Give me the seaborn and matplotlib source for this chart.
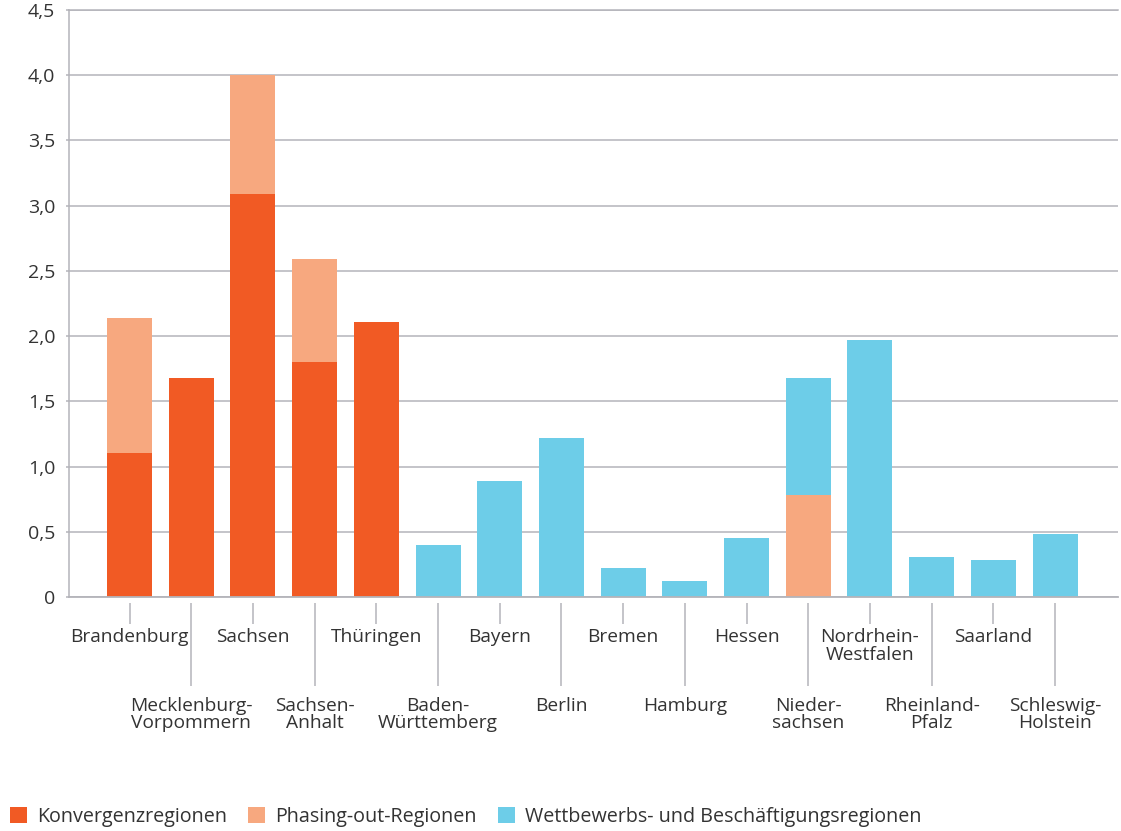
import pandas as pd
import numpy as np
import seaborn as sns
import matplotlib.pyplot as plt
from matplotlib.patches import Patch
from matplotlib.ticker import FuncFormatter

# data
laender = ["Brandenburg", "Mecklenburg-\nVorpommern", "Sachsen", "Sachsen-\nAnhalt",
           "Thüringen", "Baden-\nWürttemberg", "Bayern", "Berlin", "Bremen", "Hamburg",
           "Hessen", "Nieder-\nsachsen", "Nordrhein-\nWestfalen", "Rheinland-\nPfalz",
           "Saarland", "Schleswig-\nHolstein"]
konvergenz = [1.10, 1.68, 3.09, 1.80, 2.11, 0, 0, 0, 0, 0, 0, 0, 0, 0, 0, 0]
phasing_out = [1.04, 0, 0.91, 0.79, 0, 0, 0, 0, 0, 0, 0, 0.78, 0, 0, 0, 0]
wettbewerb = [0, 0, 0, 0, 0, 0.40, 0.89, 1.22, 0.22, 0.12, 0.45, 0.90, 1.97, 0.31, 0.28, 0.48]

serien = ["Konvergenzregionen", "Phasing-out-Regionen", "Wettbewerbs- und Beschäftigungsregionen"]
farben = ["#F15A24", "#F7A87F", "#6DCDE8"]

df = pd.DataFrame({"land": laender, "k": konvergenz, "p": phasing_out, "w": wettbewerb})
df["kp"] = df["k"] + df["p"]
df["kpw"] = df["kp"] + df["w"]

plt.rcParams['font.family'] = ['Open Sans', 'DejaVu Sans']
textfarbe = "#333333"
grau = "#B4B4BA"
fs = 13.8

fig = plt.figure(figsize=(11.21, 8.31), dpi=100)
ax = fig.add_axes([0.0616, 0.2816, 0.9357, 0.7064])

# stacked bars: draw cumulative totals on top of each other
for spalte, farbe in zip(["kpw", "kp", "k"], farben[::-1]):
    sns.barplot(data=df, x="land", y=spalte, color=farbe, width=0.73,
                linewidth=0, saturation=1, ax=ax, zorder=2)

ax.set_xlim(-0.98, 16.02)
ax.set_ylim(0, 4.5)
ax.set_yticks(np.arange(0, 4.51, 0.5))
ax.yaxis.set_major_formatter(FuncFormatter(lambda v, p: "0" if v == 0 else f"{v:.1f}".replace(".", ",")))
ax.grid(axis="y", color=grau, linewidth=1.1, zorder=0)
ax.set_axisbelow(True)
ax.axhline(0, color=grau, linewidth=1.3, zorder=3, clip_on=False)

for s in ["right", "bottom"]:
    ax.spines[s].set_visible(False)
for s in ["left", "top"]:
    ax.spines[s].set_color(grau)
    ax.spines[s].set_linewidth(1.1)
ax.spines["bottom"].set_position(("outward", 4.5))

# alternating label rows via major/minor ticks
idx = np.arange(len(laender))
ax.set_xticks(idx[::2], [laender[i] for i in idx[::2]])
ax.set_xticks(idx[1::2], [laender[i] for i in idx[1::2]], minor=True)
ax.tick_params(axis="x", which="major", length=15, width=1.1, color=grau, pad=3,
               labelsize=fs, labelcolor=textfarbe)
ax.tick_params(axis="x", which="minor", length=60, width=1.1, color=grau, pad=7.5,
               labelsize=fs, labelcolor=textfarbe)
for t in ax.get_xticklabels(which="both"):
    t.set_linespacing(0.95)
ax.tick_params(axis="y", length=2, width=1.1, color=grau, pad=8, labelsize=14, labelcolor=textfarbe)
ax.set_xlabel("")
ax.set_ylabel("")

handles = [Patch(facecolor=f, edgecolor="none") for f in farben]
fig.legend(handles, serien, loc="center left", bbox_to_anchor=(0.009, 0.017), ncol=3,
           frameon=False, fontsize=14.2, labelcolor=textfarbe, borderpad=0, borderaxespad=0,
           handlelength=0.85, handleheight=0.85, handletextpad=0.5, columnspacing=1.1)

fig.savefig("out.png", dpi=100)
